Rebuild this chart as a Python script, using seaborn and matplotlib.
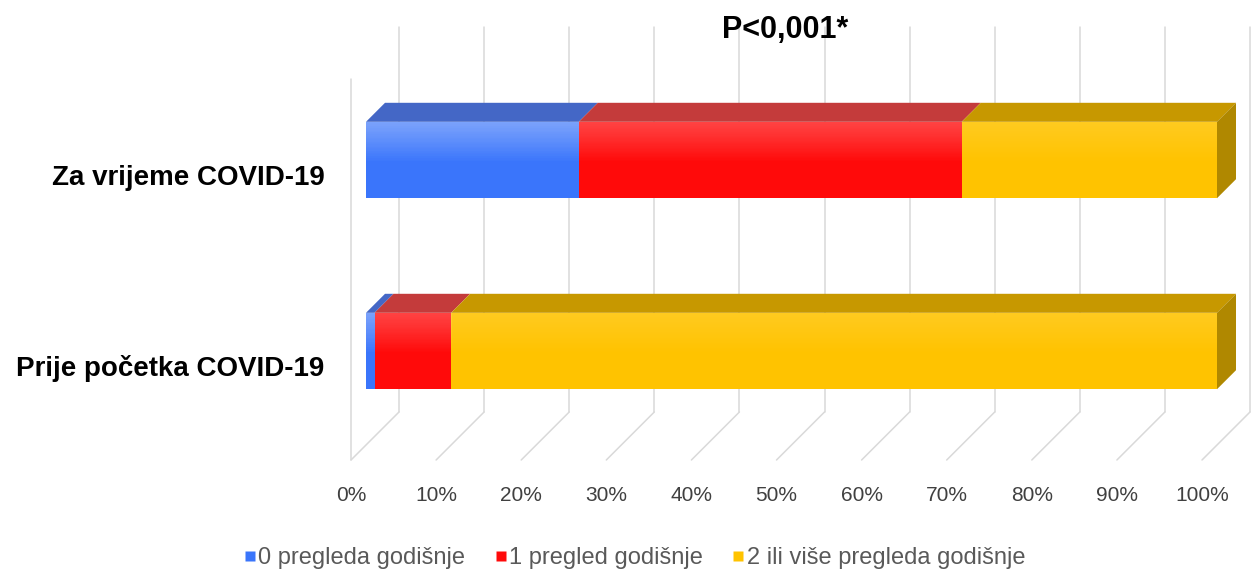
import numpy as np
import matplotlib
matplotlib.use("Agg")
import matplotlib.pyplot as plt
import matplotlib.transforms as mtransforms
from matplotlib.patches import Polygon
from matplotlib.lines import Line2D
import seaborn as sns
import pandas as pd

categories = ['Za vrijeme COVID-19', 'Prije početka COVID-19']
series = ['0 pregleda godišnje', '1 pregled godišnje', '2 ili više pregleda godišnje']
nula_pregleda = [25, 1]
jedan_pregled = [45, 9]
dva_ili_vise = [30, 90]
x_ticks = [0, 10, 20, 30, 40, 50, 60, 70, 80, 90, 100]
title = 'P<0,001*'

front_colors = ['#3a75fb', '#ff0a0a', '#ffc300']
top_colors = ['#4467c6', '#c43b3b', '#c79800']
side_color = '#b08800'

sns.set_theme(style='white')
plt.rcParams['font.family'] = ['Liberation Sans', 'DejaVu Sans']

W, H = 1260, 582
fig = plt.figure(figsize=(W / 100, H / 100), dpi=100)
# axes spans the front edge of the floor (0% .. 100%)
ax = fig.add_axes([351 / W, 1 - 460 / H, 851 / W, 433 / H])

# long table with cumulative ends, drawn longest first so shorter ones sit on top
vals = np.array([nula_pregleda, jedan_pregled, dva_ili_vise], dtype=float)
ends = vals.cumsum(axis=0)
starts = ends - vals
rows = []
for s in range(len(series) - 1, -1, -1):
    for c, cat in enumerate(categories):
        rows.append({'kategorija': cat, 'serija': series[s], 'kraj': ends[s, c]})
df = pd.DataFrame(rows)

bar_w = 0.4
sns.barplot(data=df, x='kraj', y='kategorija', hue='serija',
            hue_order=series[::-1], palette=front_colors[::-1],
            order=categories, dodge=False, width=bar_w, orient='h',
            saturation=1, legend=False, linewidth=0, ax=ax)

# pixel -> data conversions (191 px between bar centres, 851 px for 100%)
ux = 100 / 851
uy = 1 / 191
ax.set_xlim(0, 100)
ax.set_ylim((460 - 160) * uy, (27 - 160) * uy)

shift = 15 * ux       # bar front face sits a bit behind the floor front edge
dx, dy = 19 * ux, -19 * uy   # bar depth
back = 48 * ux        # back wall offset
floor_back_y = (412 - 160) * uy
floor_front_y = (460 - 160) * uy

fronts = list(ax.patches)
for p in fronts:
    p.set_x(p.get_x() + shift)
    p.set_zorder(3)
    p.set_clip_on(False)
    # soft vertical shading on the front face
    x0, y0 = p.get_x(), p.get_y()
    grad = np.zeros((64, 2, 4))
    t = np.linspace(0, 1, 64)[:, None]
    grad[..., :3] = 1.0
    grad[..., 3] = np.clip(0.13 * (1 - t / 0.55), 0, None)
    im = ax.imshow(grad, extent=(x0, x0 + p.get_width(), y0 + p.get_height(), y0),
                   aspect='auto', zorder=3.5, interpolation='bilinear')
    im.set_clip_path(p)

# top and side faces
for c in range(len(categories)):
    y_top = c - bar_w / 2
    y_bot = c + bar_w / 2
    for s in range(len(series)):
        a, b = starts[s, c] + shift, ends[s, c] + shift
        if b - a <= 0:
            continue
        ax.add_patch(Polygon([(a, y_top), (b, y_top), (b + dx, y_top + dy), (a + dx, y_top + dy)],
                             closed=True, facecolor=top_colors[s], edgecolor='none',
                             zorder=2, clip_on=False))
    e = ends[-1, c] + shift
    ax.add_patch(Polygon([(e, y_top), (e + dx, y_top + dy), (e + dx, y_bot + dy), (e, y_bot)],
                         closed=True, facecolor=side_color, edgecolor='none',
                         zorder=2, clip_on=False))

# back wall gridlines and floor lines
grid_c = '#d9d9d9'
ylo, yhi = ax.get_ylim()
for v in x_ticks:
    ax.plot([v + back, v + back], [yhi, floor_back_y], color=grid_c, lw=1.1, zorder=0, clip_on=False)
    ax.plot([v + back, v], [floor_back_y, floor_front_y], color=grid_c, lw=1.1, zorder=0, clip_on=False)
# left wall front edge
ax.plot([0, 0], [(79 - 160) * uy, floor_front_y], color=grid_c, lw=1.1, zorder=0, clip_on=False)

for sp in ax.spines.values():
    sp.set_visible(False)
ax.grid(False)
ax.set_xticks(x_ticks, labels=[f'{v}%' for v in x_ticks])
ax.tick_params(axis='x', length=0, pad=19, labelsize=15, labelcolor='#404040')
ax.tick_params(axis='y', length=0, pad=19, labelsize=20)
ax.set_xlabel('')
ax.set_ylabel('')
offset = mtransforms.ScaledTranslation(0, -0.15, fig.dpi_scale_trans)
for lab in ax.get_yticklabels():
    lab.set_fontweight('bold')
    lab.set_color('black')
    lab.set_transform(lab.get_transform() + offset)
ax.patch.set_alpha(0)

fig.text(785 / W, 1 - 30 / H, title, ha='center', va='center',
         fontsize=22, fontweight='bold', color='black')

handles = [Line2D([], [], marker='s', linestyle='none', markersize=7,
                  markerfacecolor=front_colors[i], markeredgecolor='none') for i in range(3)]
fig.legend(handles, series, loc='center', bbox_to_anchor=(634 / W, 1 - 558 / H),
           ncol=3, frameon=False, fontsize=17, labelcolor='#595959',
           handletextpad=0.05, columnspacing=1.2, handlelength=0.6)

plt.savefig('out.png', dpi=100)
